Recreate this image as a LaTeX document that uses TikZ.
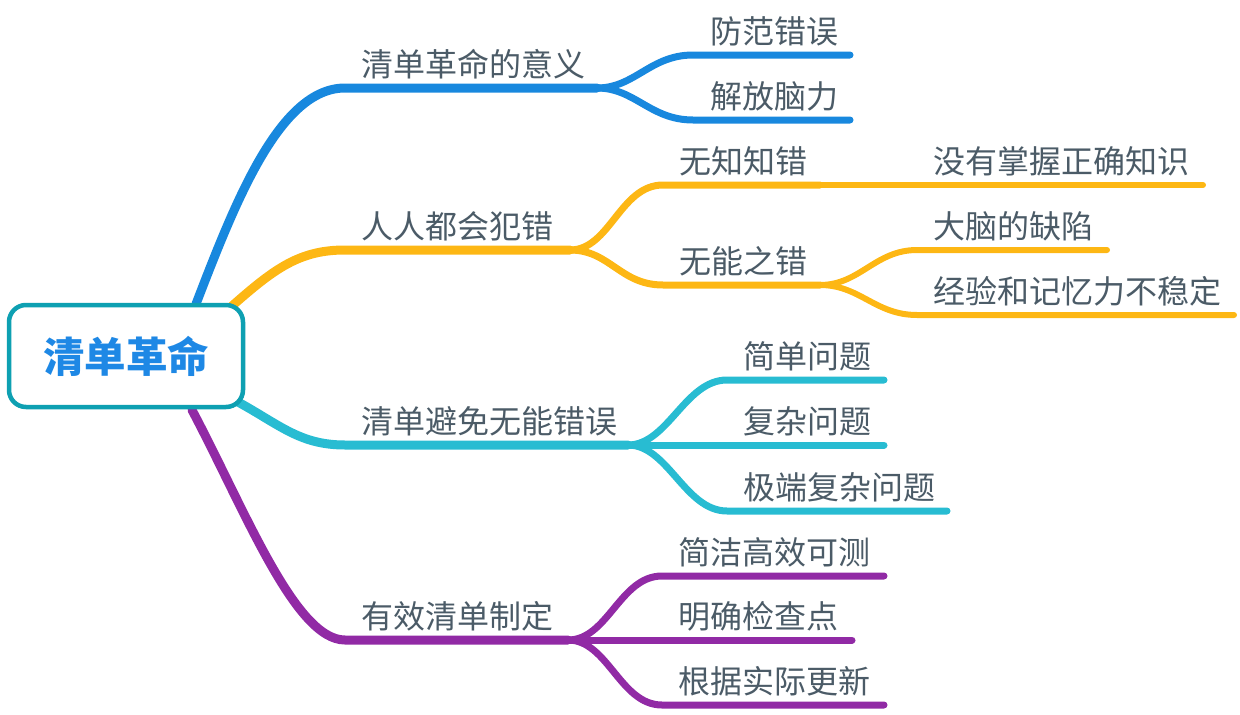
\documentclass[tikz,border=0pt]{standalone}
\usepackage{fontspec}
\newfontfamily\cjk{Noto Sans CJK SC}
\definecolor{cBlue}{RGB}{24,136,222}
\definecolor{cYellow}{RGB}{253,183,20}
\definecolor{cCyan}{RGB}{40,188,210}
\definecolor{cPurple}{RGB}{145,42,165}
\definecolor{cTeal}{RGB}{14,160,178}
\definecolor{cRoot}{RGB}{30,136,229}
\definecolor{cText}{RGB}{75,91,103}
\begin{document}
\begin{tikzpicture}[x=1pt,y=-1pt,line cap=round,
  mainline/.style={line width=9pt},
  subline/.style={line width=7pt},
  leafline/.style={line width=6pt},
  lbl/.style={font=\cjk\fontsize{32}{32}\selectfont, text=cText, inner sep=0pt, anchor=base west},
  rootbox/.style={draw=cTeal, line width=4.5pt, rounded corners=17pt, fill=white,
    minimum width=234pt, minimum height=102pt, inner sep=0pt, text=cRoot,
    font=\cjk\bfseries\fontsize{41.5}{41.5}\selectfont}]
\useasboundingbox (0,0) rectangle (1240,715);

% branch start points on the root box and fork points
\coordinate (s1) at (196,304);
\coordinate (s2) at (232,306);
\coordinate (s3) at (238,402);
\coordinate (s4) at (192,410);
\coordinate (f1) at (597,88);
\coordinate (f2) at (570,250);
\coordinate (f3) at (628,445);
\coordinate (f4) at (568,640);
\coordinate (f22) at (820,285);
\coordinate (f21) at (820,185);

% leaf end points
\coordinate (e11) at (850,55);
\coordinate (e12) at (850,120);
\coordinate (e211) at (1203,185);
\coordinate (e221) at (1107,250);
\coordinate (e222) at (1234,315);
\coordinate (e31) at (884,380);
\coordinate (e32) at (884,445);
\coordinate (e33) at (947,511);
\coordinate (e41) at (884,576);
\coordinate (e42) at (852,640);
\coordinate (e43) at (884,705);

% blue branch
\draw[cBlue, mainline] (s1) .. controls (236,200) and (280,88) .. (345,88) -- (f1);
\draw[cBlue, subline] (f1) .. controls (635,88) and (650,55) .. (693,55) -- (e11);
\draw[cBlue, subline] (f1) .. controls (635,88) and (650,120) .. (693,120) -- (e12);

% yellow branch
\draw[cYellow, mainline] (s2) .. controls (275,268) and (300,250) .. (345,250) -- (f2);
\draw[cYellow, subline] (f2) .. controls (610,250) and (620,185) .. (663,185) -- (f21);
\draw[cYellow, subline] (f2) .. controls (610,250) and (620,285) .. (663,285) -- (f22);
\draw[cYellow, leafline] (f21) -- (e211);
\draw[cYellow, leafline] (f22) .. controls (860,285) and (875,250) .. (917,250) -- (e221);
\draw[cYellow, leafline] (f22) .. controls (860,285) and (875,315) .. (917,315) -- (e222);

% cyan branch
\draw[cCyan, mainline] (s3) .. controls (280,425) and (300,445) .. (345,445) -- (f3);
\draw[cCyan, subline] (f3) .. controls (668,445) and (685,380) .. (727,380) -- (e31);
\draw[cCyan, subline] (f3) -- (e32);
\draw[cCyan, subline] (f3) .. controls (668,445) and (685,511) .. (727,511) -- (e33);

% purple branch
\draw[cPurple, mainline] (s4) .. controls (245,510) and (295,640) .. (345,640) -- (f4);
\draw[cPurple, subline] (f4) .. controls (608,640) and (620,576) .. (662,576) -- (e41);
\draw[cPurple, subline] (f4) -- (e42);
\draw[cPurple, subline] (f4) .. controls (608,640) and (620,705) .. (662,705) -- (e43);

% central topic
\node[rootbox] (root) at (126,356) {清单革命};

% labels
\node[lbl] (t1) at (361,76) {清单革命的意义};
\node[lbl] (t11) at (710,43) {防范错误};
\node[lbl] (t12) at (710,108) {解放脑力};
\node[lbl] (t2) at (361,238) {人人都会犯错};
\node[lbl] (t21) at (679,173) {无知知错};
\node[lbl] (t22) at (679,273) {无能之错};
\node[lbl] (t211) at (933,173) {没有掌握正确知识};
\node[lbl] (t221) at (933,238) {大脑的缺陷};
\node[lbl] (t222) at (933,303) {经验和记忆力不稳定};
\node[lbl] (t3) at (361,433) {清单避免无能错误};
\node[lbl] (t31) at (743,368) {简单问题};
\node[lbl] (t32) at (743,433) {复杂问题};
\node[lbl] (t33) at (743,499) {极端复杂问题};
\node[lbl] (t4) at (361,628) {有效清单制定};
\node[lbl] (t41) at (678,564) {简洁高效可测};
\node[lbl] (t42) at (678,628) {明确检查点};
\node[lbl] (t43) at (678,693) {根据实际更新};
\end{tikzpicture}
\end{document}
